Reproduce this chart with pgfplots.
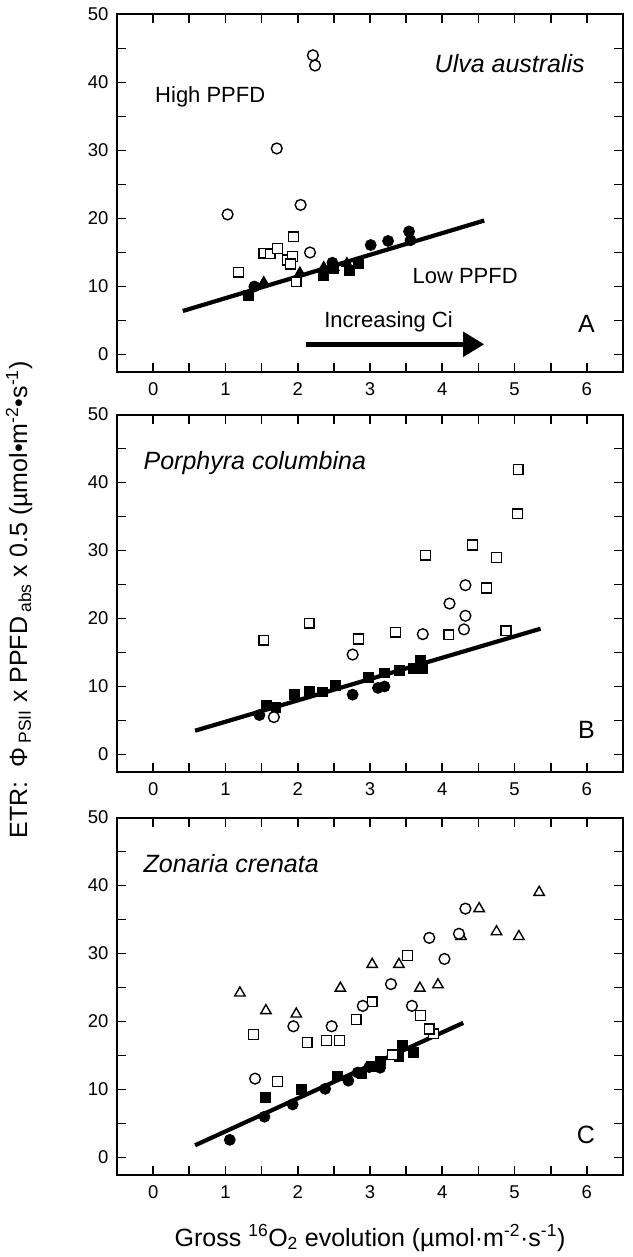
\documentclass[border=0pt]{standalone}
\usepackage{fontspec}
\setmainfont{Liberation Sans}
\usepackage{pgfplots}
\pgfplotsset{compat=1.18}
\usetikzlibrary{arrows.meta}

\pgfplotsset{
  panel/.style={
    scale only axis, width=506pt, height=357pt,
    xmin=-0.5, xmax=6.5, ymin=-2.5, ymax=50,
    xtick={0,...,6}, minor xtick={0.5,1.5,...,5.5},
    ytick={0,10,...,50}, minor ytick={5,15,...,45},
    tick align=inside,
    major tick length=9pt, minor tick length=9pt,
    axis line style={line width=2pt},
    tick style={line width=1.6pt, black},
    tick label style={font=\fontsize{18.5}{22}\selectfont},
    /pgf/number format/assume math mode=true,
    clip=false,
    xticklabel style={yshift=-8pt},
    yticklabel style={xshift=-5pt},
  },
  fc/.style={only marks, mark=*, mark size=5.4pt, mark options={fill=black, draw=black, line width=1pt}},
  oc/.style={only marks, mark=*, mark size=5.4pt, mark options={fill=white, draw=black, line width=1.4pt}},
  fs/.style={only marks, mark=square*, mark size=4.9pt, mark options={fill=black, draw=black, line width=1pt}},
  os/.style={only marks, mark=square*, mark size=4.9pt, mark options={fill=white, draw=black, line width=1.4pt}},
  ft/.style={only marks, mark=triangle*, mark size=6pt, mark options={fill=black, draw=black, line width=1pt}},
  ot/.style={only marks, mark=triangle*, mark size=6pt, mark options={fill=white, draw=black, line width=1.4pt}},
  reg/.style={no marks, line width=4.2pt, black},
}
\newcommand{\inner}{\fontsize{22}{26}\selectfont}
\newcommand{\spec}{\fontsize{25}{29}\selectfont\itshape}
\newcommand{\letter}{\fontsize{25}{29}\selectfont}
\newcommand{\ttl}{\fontsize{25}{29}\selectfont}

\begin{document}
\begin{tikzpicture}
\useasboundingbox (0,0) rectangle (632pt,-1257pt);

% ---------------- Panel A ----------------
\begin{axis}[panel, at={(117pt,-14.5pt)}, anchor=north west]
\addplot[reg] coordinates {(0.41,6.4) (4.58,19.7)};
\addplot[line width=5pt, black, -{Triangle[length=21pt,width=24pt]}] coordinates {(2.12,1.5) (4.58,1.5)};
\addplot[fs] coordinates {(1.32,8.7) (2.36,11.6) (2.49,12.6) (2.72,12.3) (2.84,13.3)};
\addplot[ft] coordinates {(1.53,10.6) (2.03,12.0) (2.36,12.8) (2.50,12.8) (2.68,13.4)};
\addplot[fc] coordinates {(1.40,10.0) (2.48,13.5) (3.01,16.1) (3.25,16.7) (3.54,18.1) (3.56,16.8)};
\addplot[os] coordinates {(1.18,12.1) (1.53,14.9) (1.62,14.8) (1.72,15.6) (1.94,17.3) (1.86,13.9) (1.93,14.4) (1.90,13.3) (1.98,10.7)};
\addplot[oc] coordinates {(1.03,20.6) (1.71,30.3) (2.21,44.0) (2.24,42.5) (2.04,22.0) (2.17,15.0)};
\node[anchor=base west, font=\inner] at (axis cs:-0.02,37.0) {High PPFD};
\node[anchor=base east, font=\spec] at (axis cs:6.02,41.4) {Ulva australis};
\node[anchor=base west, font=\inner] at (axis cs:3.54,10.4) {Low PPFD};
\node[anchor=base west, font=\inner] at (axis cs:2.32,3.9) {Increasing Ci};
\node[anchor=base east, font=\letter] at (axis cs:6.16,3.3) {A};
\end{axis}

% ---------------- Panel B ----------------
\begin{axis}[panel, at={(117pt,-414.5pt)}, anchor=north west]
\addplot[reg] coordinates {(0.58,3.5) (5.36,18.5)};
\addplot[fs] coordinates {(1.57,7.2) (1.70,6.9) (1.96,8.8) (2.16,9.3) (2.34,9.2) (2.52,10.1) (2.98,11.3) (3.20,12.0) (3.41,12.4) (3.60,12.6) (3.70,13.8) (3.73,12.6)};
\addplot[fc] coordinates {(1.47,5.8) (2.76,8.8) (3.11,9.8) (3.20,10.0)};
\addplot[os] coordinates {(1.53,16.8) (2.16,19.3) (2.84,17.0) (3.35,18.0) (3.77,29.3) (4.09,17.6) (4.42,30.8) (4.61,24.5) (4.75,29.0) (4.88,18.2) (5.05,41.9) (5.04,35.4)};
\addplot[oc] coordinates {(1.67,5.5) (2.76,14.7) (3.73,17.7) (4.10,22.2) (4.32,24.9) (4.32,20.4) (4.30,18.4)};
\node[anchor=base west, font=\spec] at (axis cs:-0.18,41.9) {Porphyra columbina};
\node[anchor=base east, font=\letter] at (axis cs:6.16,2.3) {B};
\end{axis}

% ---------------- Panel C ----------------
\begin{axis}[panel, at={(117pt,-817.5pt)}, anchor=north west]
\addplot[reg] coordinates {(0.58,1.8) (4.29,19.8)};
\addplot[fs] coordinates {(1.55,8.8) (2.05,10.0) (2.55,12.0) (2.89,12.4) (3.02,13.4) (3.15,14.2) (3.40,14.8) (3.45,16.5) (3.60,15.5)};
\addplot[fc] coordinates {(1.06,2.6) (1.54,6.0) (1.93,7.8) (2.38,10.1) (2.70,11.3) (2.83,12.5) (2.99,13.3) (3.14,13.2)};
\addplot[ot] coordinates {(1.20,24.2) (1.56,21.6) (1.98,21.1) (2.59,24.9) (3.03,28.4) (3.40,28.4) (3.69,24.9) (3.94,25.4) (4.26,32.5) (4.51,36.6) (4.75,33.2) (5.06,32.5) (5.34,39.0)};
\addplot[os] coordinates {(1.39,18.1) (1.72,11.2) (2.13,16.9) (2.40,17.2) (2.58,17.2) (2.81,20.3) (3.03,22.9) (3.31,15.1) (3.52,29.7) (3.70,20.9) (3.88,18.2) (3.82,18.9)};
\addplot[oc] coordinates {(1.41,11.6) (1.94,19.3) (2.47,19.3) (2.90,22.3) (3.29,25.5) (3.58,22.3) (3.82,32.3) (4.03,29.2) (4.23,32.9) (4.32,36.6)};
\node[anchor=base west, font=\spec] at (axis cs:-0.18,41.9) {Zonaria crenata};
\node[anchor=base east, font=\letter] at (axis cs:6.16,2.1) {C};
\end{axis}

% axis titles
\node[rotate=90, font=\ttl] at (19pt,-600pt) {ETR:\ \ Φ\,\textsubscript{PSII} x PPFD\,\textsubscript{abs} x 0.5 (µmol•m\textsuperscript{-2}•s\textsuperscript{-1})};
\node[anchor=base, font=\ttl] at (370pt,-1246pt) {Gross \textsuperscript{16}O\textsubscript{2} evolution (µmol·m\textsuperscript{-2}·s\textsuperscript{-1})};
\end{tikzpicture}
\end{document}
